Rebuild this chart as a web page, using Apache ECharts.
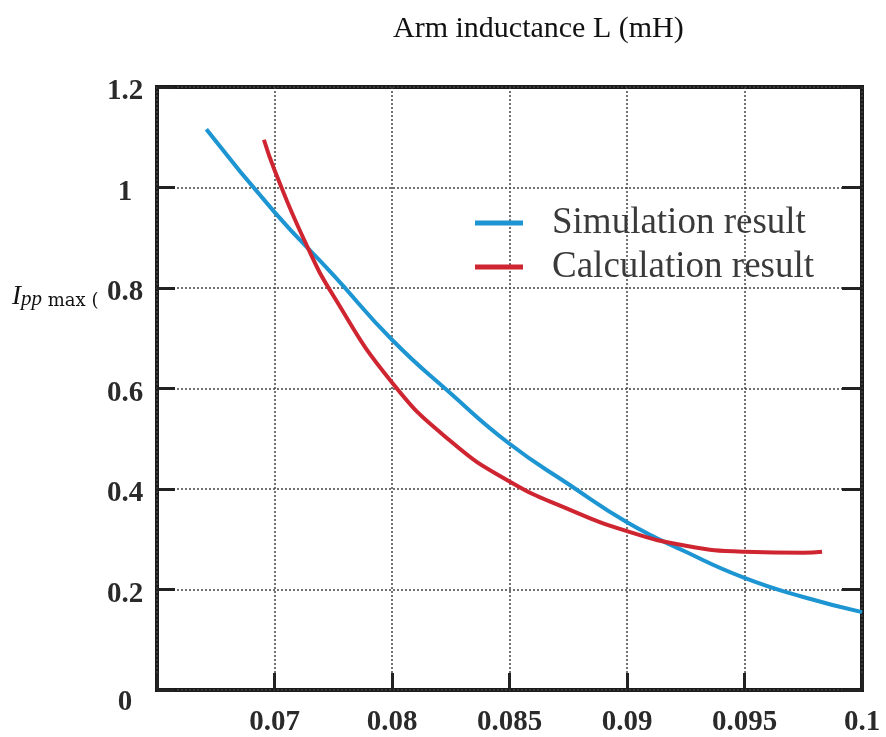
<!DOCTYPE html>
<html>
<head>
<meta charset="utf-8">
<script src="https://cdn.jsdelivr.net/npm/echarts@6/dist/echarts.min.js"></script>
<style>
html,body{margin:0;padding:0;background:#fff;}
#chart{width:886px;height:737px;}
</style>
</head>
<body>
<div id="chart"></div>
<script>
// Tick labels of the evenly spaced horizontal axis (positions 0..6)
var xTickLabels = ['', '0.07', '0.08', '0.085', '0.09', '0.095', '0.1'];
var seriesNames = ['Simulation result', 'Calculation result'];
// [axis position, Ipp max]
var simulation = [
  [0.42,1.116],[1.0,0.951],[1.5,0.826],[2.0,0.697],[2.5,0.59],[3.0,0.49],
  [3.5,0.41],[4.0,0.334],[4.5,0.275],[5.0,0.223],[5.5,0.185],[6.0,0.155]
];
var calculation = [
  [0.91,1.095],[1.0,1.035],[1.25,0.897],[1.5,0.785],[2.0,0.612],[2.5,0.495],
  [3.0,0.415],[3.5,0.36],[4.0,0.316],[4.5,0.287],[5.0,0.275],[5.5,0.273],[5.66,0.275]
];

var serif = 'Liberation Serif';
var chart = echarts.init(document.getElementById('chart'));
chart.setOption({
  animation: false,
  backgroundColor: '#fff',
  title: {
    text: 'Arm inductance L (mH)',
    left: 388, top: 9,
    textStyle: {fontFamily: serif, fontSize: 30, fontWeight: 'normal', color: '#111'}
  },
  graphic: [{
    type: 'text',
    left: 12, top: 283,
    z: 0,
    style: {
      text: '{i|I}{s|pp}{m| max (}',
      rich: {
        i: {fontFamily: serif, fontStyle: 'italic', fontWeight: 'normal', fontSize: 27, lineHeight: 27, verticalAlign: 'bottom', fill: '#111'},
        s: {fontFamily: serif, fontStyle: 'italic', fontWeight: 'normal', fontSize: 21, lineHeight: 21, verticalAlign: 'bottom', fill: '#111'},
        m: {fontFamily: 'DejaVu Serif', fontWeight: 'normal', fontSize: 18, lineHeight: 18, verticalAlign: 'bottom', fill: '#111'}
      }
    }
  }],
  legend: {
    data: seriesNames,
    orient: 'vertical',
    left: 475, top: 203,
    padding: 0,
    icon: 'rect',
    itemWidth: 48, itemHeight: 5, itemGap: 4,
    textStyle: {fontFamily: serif, fontSize: 37, color: '#3a3a3a', lineHeight: 40, padding: [0,0,0,24]}
  },
  grid: {
    left: 157, right: 24, top: 87, bottom: 47,
    show: true, borderWidth: 4, borderColor: '#1a1a1a', backgroundColor: 'transparent'
  },
  xAxis: {
    type: 'value', min: 0, max: 6, interval: 1,
    axisLine: {show: false},
    axisTick: {show: true, inside: true, length: 17, lineStyle: {color: '#222', width: 3}},
    axisLabel: {
      margin: 18, fontFamily: serif, fontWeight: 'bold', fontSize: 29, color: '#2a2a2a',
      formatter: function (v) { return xTickLabels[Math.round(v)] || ''; }
    },
    splitLine: {show: true, lineStyle: {type: [2, 2], color: '#444', width: 1.5}}
  },
  yAxis: [
    {
      type: 'value', min: 0, max: 1.2, interval: 0.2,
      axisLine: {show: false},
      axisTick: {show: true, inside: true, length: 18, lineStyle: {color: '#222', width: 3}},
      axisLabel: {
        margin: 32, align: 'center', fontFamily: serif, fontWeight: 'bold', fontSize: 29, color: '#2a2a2a',
        padding: [10, 0, 0, 0],
        formatter: function (v) { return v === 0 ? '{z|0}' : String(+v.toFixed(1)); },
        rich: {z: {fontFamily: serif, fontWeight: 'bold', fontSize: 29, color: '#2a2a2a', padding: [16, 0, 0, 0]}}
      },
      splitLine: {show: true, lineStyle: {type: [2, 2], color: '#444', width: 1.5}}
    },
    {
      type: 'value', min: 0, max: 1.2, interval: 0.2, position: 'right',
      axisLine: {show: false},
      axisTick: {show: true, inside: true, length: 20, lineStyle: {color: '#222', width: 3}},
      axisLabel: {show: false},
      splitLine: {show: false}
    }
  ],
  series: [
    {
      name: seriesNames[0], type: 'line', data: simulation, smooth: true,
      symbol: 'none', yAxisIndex: 0, z: 3,
      color: '#1c95d2',
      lineStyle: {color: '#1c95d2', width: 4}
    },
    {
      name: seriesNames[1], type: 'line', data: calculation, smooth: true,
      symbol: 'none', yAxisIndex: 0, z: 4,
      color: '#cf2531',
      lineStyle: {color: '#cf2531', width: 4}
    }
  ]
});
</script>
</body>
</html>
